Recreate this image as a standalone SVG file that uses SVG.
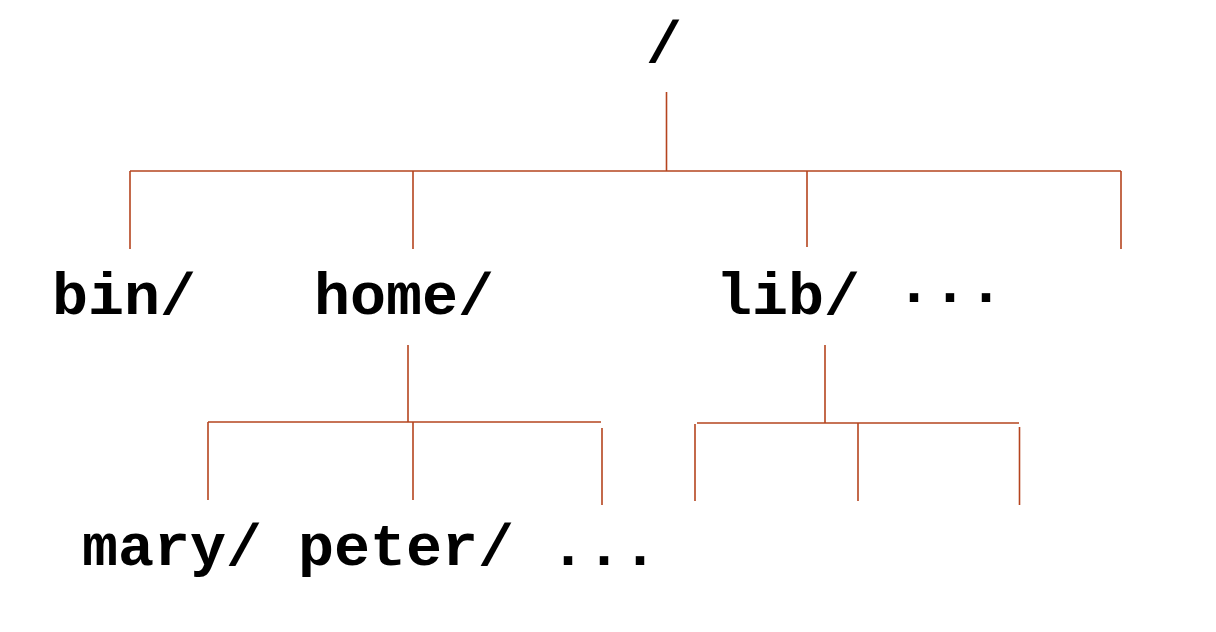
<svg xmlns="http://www.w3.org/2000/svg" width="1216" height="632" viewBox="0 0 1216 632">
<style>
.t{font-family:"Liberation Mono","Courier New",monospace;font-weight:bold;font-size:60px;fill:#000}
.c line{stroke:#B5441E;stroke-width:1.6}
</style>
<rect width="1216" height="632" fill="#fff"/>
<g id="connectors" class="c">
<line x1="666.5" y1="92" x2="666.5" y2="171"/>
<line x1="130" y1="171" x2="1121" y2="171"/>
<line x1="130" y1="171" x2="130" y2="249"/>
<line x1="413" y1="171" x2="413" y2="249"/>
<line x1="807" y1="171" x2="807" y2="247"/>
<line x1="1121" y1="171" x2="1121" y2="249"/>
<line x1="408" y1="345" x2="408" y2="422"/>
<line x1="208" y1="422" x2="601" y2="422"/>
<line x1="208" y1="422" x2="208" y2="500"/>
<line x1="413" y1="422" x2="413" y2="500"/>
<line x1="602" y1="428" x2="602" y2="505"/>
<line x1="825" y1="345" x2="825" y2="423"/>
<line x1="697" y1="423" x2="1019" y2="423"/>
<line x1="695" y1="424" x2="695" y2="501"/>
<line x1="858" y1="423" x2="858" y2="501"/>
<line x1="1019.5" y1="427" x2="1019.5" y2="505"/>
</g>
<g id="root"><text class="t" x="646" y="62">/</text></g>
<g id="bin"><text class="t" x="52" y="314">bin/</text></g>
<g id="home"><text class="t" x="314" y="314">home/</text></g>
<g id="lib"><text class="t" x="716" y="314">lib/ ···</text></g>
<g id="children"><text class="t" x="82" y="565">mary/ peter/ ...</text></g>
</svg>
